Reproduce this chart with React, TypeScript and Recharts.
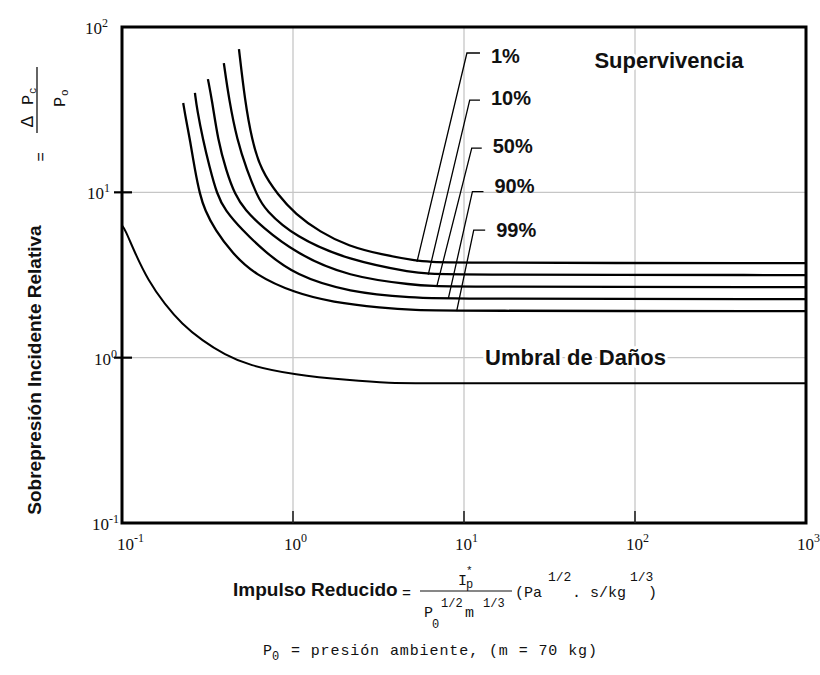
import React from 'react';
import { LineChart, Line, XAxis, YAxis, CartesianGrid, ReferenceArea, ReferenceDot } from 'recharts';

// ---- axis ticks ----
const xTicks = [0.1, 1, 10, 100, 1000];
const yTicks = [0.1, 1, 10, 100];

// ---- survival curves (reduced impulse x, relative overpressure y) ----
const pct1X = [0.483, 0.523, 0.575, 0.65, 0.817, 1.03, 1.44, 2.1, 3.36, 5.31, 6.6, 1000];
const pct1Y = [73.6, 36.1, 20.7, 13.6, 9.64, 7.4, 5.75, 4.73, 4.18, 3.85, 3.74, 3.73];
const pct10X = [0.394, 0.423, 0.471, 0.538, 0.615, 0.686, 1.03, 2.1, 5.16, 6.6, 1000];
const pct10Y = [60.5, 36.1, 20.7, 13.6, 9.64, 7.82, 5.37, 3.89, 3.25, 3.17, 3.16];
const pct50X = [0.318, 0.336, 0.364, 0.406, 0.458, 0.524, 0.659, 1.03, 2.1, 5.16, 7.2, 1000];
const pct50Y = [48.4, 36.1, 20.7, 13.6, 9.64, 7.82, 6.17, 4.3, 3.08, 2.75, 2.68, 2.67];
const pct90X = [0.267, 0.275, 0.298, 0.323, 0.36, 0.4, 0.504, 0.686, 1.03, 2.1, 5.16, 8.0, 1000];
const pct90Y = [39.9, 31.5, 20.7, 14.6, 9.64, 7.82, 5.92, 4.36, 3.16, 2.49, 2.3, 2.27, 2.26];
const pct99X = [0.228, 0.237, 0.25, 0.267, 0.286, 0.305, 0.35, 0.44, 0.6, 1.03, 1.69, 3.31, 5.16, 8.5, 1000];
const pct99Y = [34.7, 27.4, 20.7, 13.6, 9.64, 7.82, 5.92, 4.3, 3.16, 2.46, 2.17, 2.0, 1.94, 1.92, 1.91];

// ---- damage threshold curve ----
const damageX = [0.1, 0.104, 0.119, 0.142, 0.178, 0.224, 0.294, 0.4, 0.546, 1.03, 2.1, 3.85, 5.0, 1000];
const damageY = [6.3, 6.0, 4.3, 2.94, 2.1, 1.6, 1.27, 1.04, 0.9, 0.785, 0.731, 0.7, 0.7, 0.7];

// ---- leader lines (joint -> top -> hook end) ----
const lead1X = [5.31, 10.4, 12.4];
const lead1Y = [3.8, 69.6, 69.6];
const lead10X = [6.18, 10.8, 12.4];
const lead10Y = [3.18, 36.1, 36.1];
const lead50X = [6.92, 11.1, 12.7];
const lead50Y = [2.68, 18.5, 18.5];
const lead90X = [8.09, 11.2, 13.0];
const lead90Y = [2.27, 10.1, 10.1];
const lead99X = [9.06, 11.4, 13.3];
const lead99Y = [1.91, 5.91, 5.91];

const pctLabels = ['1%', '10%', '50%', '90%', '99%'];

// annotation anchors (data coords)
const survivalTextAt = [158, 56.5];
const damageTextAt = [44.9, 0.902];

const toPts = (xs: number[], ys: number[]) => xs.map((x, i) => ({ x, y: ys[i] }));

const curves = [toPts(pct1X, pct1Y), toPts(pct10X, pct10Y), toPts(pct50X, pct50Y), toPts(pct90X, pct90Y), toPts(pct99X, pct99Y)];
const leaders = [toPts(lead1X, lead1Y), toPts(lead10X, lead10Y), toPts(lead50X, lead50Y), toPts(lead90X, lead90Y), toPts(lead99X, lead99Y)];
const damage = toPts(damageX, damageY);

const labelDy = [10, 5, 5, 1, 7];
const yLabelGap = [3, 5, 12, 14];

const expOf = (v: number) => String(Math.round(Math.log10(v)));

const YTick = (props: any) => {
  const { x, y, payload, index } = props;
  const interior = payload.value > yTicks[0] && payload.value < yTicks[yTicks.length - 1];
  return (
    <g>
      {interior && <line x1={x - 8} y1={y} x2={x + 10} y2={y} stroke="#000" strokeWidth={2.2} />}
      <text x={x - yLabelGap[index]} y={y + 7} textAnchor="end" fontFamily="Liberation Serif" fontSize={17} fill="#111">
        10<tspan dy={-7} fontSize={12}>{expOf(payload.value)}</tspan>
      </text>
    </g>
  );
};

const XTick = (props: any) => {
  const { x, y, payload, index } = props;
  const interior = payload.value > xTicks[0] && payload.value < xTicks[xTicks.length - 1];
  return (
    <g>
      {interior && <line x1={x} y1={y} x2={x} y2={y - 12} stroke="#222" strokeWidth={1.6} />}
      <text x={x - (index === 0 ? 5 : 9)} y={y + 27} textAnchor="start" fontFamily="Liberation Serif" fontSize={17} fill="#111">
        10<tspan dy={-8} fontSize={12}>{expOf(payload.value)}</tspan>
      </text>
    </g>
  );
};

const annot = (text: string, size: number) => (p: any) => {
  const vb = p.viewBox || {};
  return (
    <text x={vb.x} y={vb.y} textAnchor="middle" fontFamily="Liberation Sans, Arial" fontWeight="bold" fontSize={size}
      fill="#111" stroke="#fff" strokeWidth={6} paintOrder="stroke" strokeLinejoin="round">
      {text}
    </text>
  );
};

const pctAnnot = (text: string, dy: number) => (p: any) => {
  const vb = p.viewBox || {};
  return (
    <text x={vb.x + 11} y={vb.y + dy} textAnchor="start" fontFamily="Liberation Sans, Arial" fontWeight="bold" fontSize={20} fill="#111">
      {text}
    </text>
  );
};

const mono = 'Liberation Mono, Courier New, monospace';

export default function App() {
  return (
    <div style={{ position: 'absolute', left: 0, top: 0, width: 820, height: 675, background: '#fff' }}>
      <LineChart width={820} height={675} margin={{ top: 27, right: 14, left: 62, bottom: 122 }}>
        <CartesianGrid stroke="#c6c6c6" strokeWidth={1.3} />
        <XAxis dataKey="x" type="number" scale="log" domain={[0.1, 1000]} ticks={xTicks} allowDataOverflow
          axisLine={false} tickLine={false} tickSize={0} tickMargin={0} height={30} tick={<XTick />} interval={0} />
        <YAxis dataKey="y" type="number" scale="log" domain={[0.1, 100]} ticks={yTicks} allowDataOverflow
          axisLine={false} tickLine={false} tickSize={0} tickMargin={0} width={60} tick={<YTick />} interval={0} />
        <ReferenceArea x1={0.1} x2={1000} y1={0.1} y2={100} fill="none" stroke="#000" strokeWidth={3} />
        <Line data={damage} dataKey="y" type="basis" stroke="#000" strokeWidth={2} dot={false} isAnimationActive={false} />
        {curves.map((c, i) => (
          <Line key={'c' + i} data={c} dataKey="y" type="basis" stroke="#000" strokeWidth={2.3} dot={false} isAnimationActive={false} />
        ))}
        {leaders.map((c, i) => (
          <Line key={'l' + i} data={c} dataKey="y" type="linear" stroke="#000" strokeWidth={1.3} dot={false} isAnimationActive={false} />
        ))}
        {leaders.map((c, i) => (
          <ReferenceDot key={'t' + i} x={c[2].x} y={c[2].y} r={0} fill="none" stroke="none" label={pctAnnot(pctLabels[i], labelDy[i])} />
        ))}
        <ReferenceDot x={survivalTextAt[0]} y={survivalTextAt[1]} r={0} fill="none" stroke="none" label={annot('Supervivencia', 22)} />
        <ReferenceDot x={damageTextAt[0]} y={damageTextAt[1]} r={0} fill="none" stroke="none" label={annot('Umbral de Daños', 22)} />
      </LineChart>
      <svg width={820} height={675} style={{ position: 'absolute', left: 0, top: 0, pointerEvents: 'none' }}>
        <g transform="translate(0,520) rotate(-90)">
          <text x={150} y={41} textAnchor="middle" fontFamily="Liberation Sans, Arial" fontWeight="bold" fontSize={19} fill="#111">
            Sobrepresión Incidente Relativa
          </text>
          <text x={363} y={46} textAnchor="middle" fontFamily={mono} fontSize={16} fill="#111">=</text>
          <line x1={387} y1={37} x2={453} y2={37} stroke="#111" strokeWidth={1.3} />
          <text x={393} y={33} fontFamily={mono} fontSize={18} fill="#111">Δ</text>
          <text x={415} y={33} fontFamily={mono} fontSize={17} fill="#111">P</text>
          <text x={426} y={36} fontFamily={mono} fontSize={11} fill="#111">c</text>
          <text x={413} y={65} fontFamily={mono} fontSize={17} fill="#111">P</text>
          <text x={424} y={68} fontFamily={mono} fontSize={11} fill="#111">o</text>
        </g>
        <text x={233} y={596} fontFamily="Liberation Sans, Arial" fontWeight="bold" fontSize={19} fill="#111">Impulso Reducido</text>
        <text x={402} y={598} fontFamily={mono} fontSize={15} fill="#111">=</text>
        <line x1={420} y1={591} x2={512} y2={591} stroke="#111" strokeWidth={1.2} />
        <text x={458} y={585} fontFamily={mono} fontSize={15} fill="#111">I</text>
        <text x={466} y={574} fontFamily={mono} fontSize={11} fill="#111">*</text>
        <text x={466} y={588} fontFamily={mono} fontSize={12} fill="#111">p</text>
        <text x={424} y={617} fontFamily={mono} fontSize={15} fill="#111">P</text>
        <text x={432} y={628} fontFamily={mono} fontSize={12} fill="#111">0</text>
        <text x={441} y={607} fontFamily={mono} fontSize={12} fill="#111">1/2</text>
        <text x={465} y={617} fontFamily={mono} fontSize={15} fill="#111">m</text>
        <text x={483} y={607} fontFamily={mono} fontSize={12} fill="#111">1/3</text>
        <text x={515} y={597} fontFamily={mono} fontSize={15} fill="#111">(Pa</text>
        <text x={548} y={581} fontFamily={mono} fontSize={13} fill="#111">1/2</text>
        <text x={572} y={597} fontFamily={mono} fontSize={15} fill="#111">. s/kg</text>
        <text x={630} y={581} fontFamily={mono} fontSize={13} fill="#111">1/3</text>
        <text x={648} y={597} fontFamily={mono} fontSize={15} fill="#111">)</text>
        <text x={263} y={655} fontFamily={mono} fontSize={15} fill="#111">P</text>
        <text x={272} y={660} fontFamily={mono} fontSize={12} fill="#111">0</text>
        <text x={281} y={655} fontFamily={mono} fontSize={15} letterSpacing={0.9} fill="#111" xmlSpace="preserve">
          {' = presión ambiente, (m = 70 kg)'}
        </text>
      </svg>
    </div>
  );
}
